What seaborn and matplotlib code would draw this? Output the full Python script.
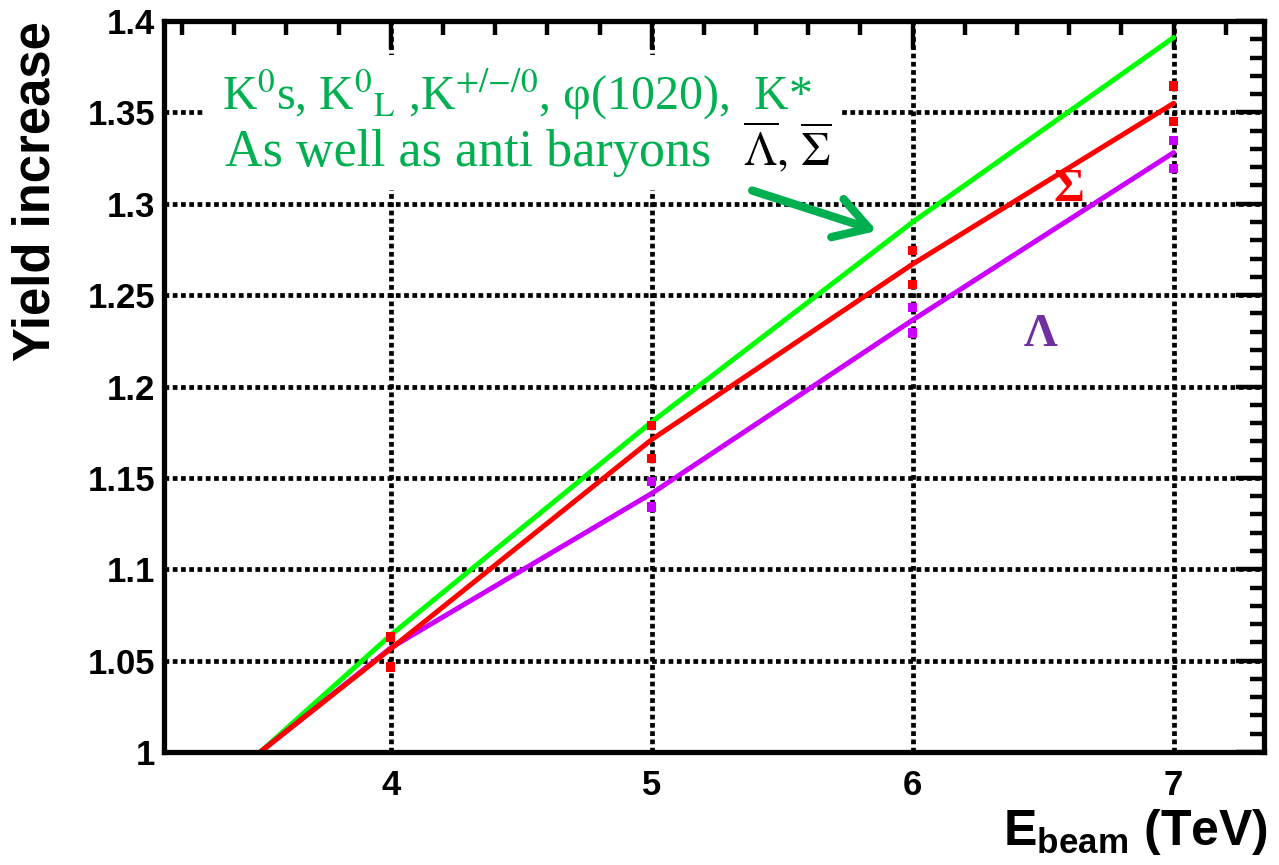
import matplotlib
matplotlib.use("Agg")
import matplotlib.pyplot as plt
from matplotlib import font_manager
from matplotlib.patches import Rectangle, FancyArrowPatch
from matplotlib.ticker import MultipleLocator, FixedLocator, FixedFormatter
import pandas as pd
import seaborn as sns

# ---- data ---------------------------------------------------------------
energy = [3.5, 4, 5, 6, 7]
yield_kaons = [1.0, 1.064, 1.1806, 1.290, 1.391]
yield_lambda = [1.0, 1.057, 1.1415, 1.2364, 1.328]
yield_sigma = [1.0, 1.0565, 1.171, 1.267, 1.355]

sigma_err_energy = [4, 5, 6, 7]
sigma_low = [1.0466, 1.1607, 1.2557, 1.3450]
sigma_high = [1.0630, 1.1786, 1.2744, 1.3644]

lambda_err_energy = [5, 6, 7]
lambda_low = [1.1340, 1.2292, 1.3192]
lambda_high = [1.1480, 1.2433, 1.3346]

x_ticks = [4, 5, 6, 7]
x_tick_labels = ["4", "5", "6", "7"]
y_ticks = [1.0, 1.05, 1.1, 1.15, 1.2, 1.25, 1.3, 1.35, 1.4]
y_tick_labels = ["1", "1.05", "1.1", "1.15", "1.2", "1.25", "1.3", "1.35", "1.4"]

series_names = ["kaons", "lambda", "sigma"]
series_colors = {"kaons": "#00FF00", "lambda": "#CC00FF", "sigma": "#FF0000"}

# ---- fonts --------------------------------------------------------------
available = {f.name for f in font_manager.fontManager.ttflist}
narrow = "Liberation Sans Narrow" if "Liberation Sans Narrow" in available else "Liberation Sans"

sns.set_theme(style="white")
plt.rcParams["font.family"] = ["Liberation Sans", "DejaVu Sans"]
plt.rcParams["text.color"] = "black"
plt.rcParams["axes.labelcolor"] = "black"
plt.rcParams["xtick.color"] = "black"
plt.rcParams["ytick.color"] = "black"
plt.rcParams["mathtext.fontset"] = "custom"
plt.rcParams["mathtext.rm"] = f"{narrow}:bold"
plt.rcParams["mathtext.bf"] = f"{narrow}:bold"
plt.rcParams["mathtext.it"] = f"{narrow}:bold"

# ---- frame --------------------------------------------------------------
fig = plt.figure(figsize=(12.79, 8.65), dpi=100)
ax = fig.add_axes([0.128, 0.1306, 0.860, 0.8451])

lines_df = pd.concat([
    pd.DataFrame({"energy": energy, "yield": vals, "species": name})
    for name, vals in zip(series_names, [yield_kaons, yield_lambda, yield_sigma])
])
sns.lineplot(data=lines_df, x="energy", y="yield", hue="species",
             hue_order=series_names, palette=series_colors, linewidth=3.6,
             estimator=None, sort=False, legend=False, ax=ax, zorder=4)

err_df = pd.concat([
    pd.DataFrame({"energy": sigma_err_energy * 2, "yield": sigma_low + sigma_high, "species": "sigma"}),
    pd.DataFrame({"energy": lambda_err_energy * 2, "yield": lambda_low + lambda_high, "species": "lambda"}),
])
sns.scatterplot(data=err_df, x="energy", y="yield", hue="species",
                palette=series_colors, marker="s", s=46, linewidth=0,
                legend=False, ax=ax, zorder=5)

ax.set_xlim(3.13, 7.345)
ax.set_ylim(1.0, 1.4)

ax.xaxis.set_major_locator(FixedLocator(x_ticks))
ax.xaxis.set_major_formatter(FixedFormatter(x_tick_labels))
ax.xaxis.set_minor_locator(MultipleLocator(0.2))
ax.yaxis.set_major_locator(FixedLocator(y_ticks))
ax.yaxis.set_major_formatter(FixedFormatter(y_tick_labels))
ax.yaxis.set_minor_locator(MultipleLocator(0.01))

ax.grid(True, which="major", color="black", linewidth=3.4,
        linestyle=(0, (1.0, 0.75)), zorder=1)
ax.set_axisbelow(True)

for sp in ax.spines.values():
    sp.set_linewidth(3.8)
    sp.set_color("black")
    sp.set_zorder(6)

ax.tick_params(which="both", direction="in", top=True, right=True,
               color="black", width=3.2)
ax.tick_params(which="major", length=20)
ax.tick_params(which="minor", length=10)
ax.tick_params(axis="x", which="major", pad=12, labelsize=25, labelcolor="black")
ax.tick_params(axis="y", which="major", pad=6, labelsize=25, labelcolor="black")
for lab in ax.get_xticklabels() + ax.get_yticklabels():
    lab.set_fontweight("bold")

ax.set_ylabel("Yield increase", loc="top", fontsize=36.5, fontweight="bold",
              color="black")
ax.yaxis.set_label_coords(-0.094, 1.0)
ax.set_xlabel(r"E$_{\mathrm{beam}}$ (TeV)", loc="right", fontsize=36,
              fontweight="bold", family=[narrow], color="black")
ax.xaxis.set_label_coords(1.004, -0.075)

# ---- annotation block ---------------------------------------------------
ax.add_patch(Rectangle((0.037, 0.769), 0.578, 0.184, transform=ax.transAxes,
                       facecolor="white", edgecolor="none", zorder=2))

text_green = "#00B050"
serif = ["Liberation Serif", "DejaVu Serif"]
ax.text(3.3525, 1.3516,
        r"K$^0$s, K$^0$$_{\mathrm{L}}$ ,K$^{{+}/{-}/0}$, φ(1020),  K*",
        color=text_green, fontsize=34.5, family=serif, math_fontfamily="stix",
        va="baseline", ha="left", zorder=3)
ax.text(3.364, 1.3204, "As well as anti baryons", color=text_green,
        fontsize=37.5, family=serif, va="baseline", ha="left", zorder=3)
ax.text(5.349, 1.3212, r"$\overline{\Lambda},\,\overline{\Sigma}$", color="black",
        fontsize=34, family=serif, math_fontfamily="stix",
        va="baseline", ha="left", zorder=3)

ax.add_patch(FancyArrowPatch((5.375, 1.3077), (5.873, 1.2847),
                             arrowstyle="->,head_length=1.0,head_width=0.6",
                             mutation_scale=24, color=text_green, linewidth=6,
                             capstyle="round", joinstyle="round", zorder=3))

ax.text(6.60, 1.3077, "Σ", color="#FF0000", fontsize=34, fontweight="bold",
        family=serif, ha="center", va="center", zorder=5)
ax.text(6.49, 1.228, "Λ", color="#7030A0", fontsize=34, fontweight="bold",
        family=serif, ha="center", va="center", zorder=5)

fig.savefig("out.png", dpi=100)
